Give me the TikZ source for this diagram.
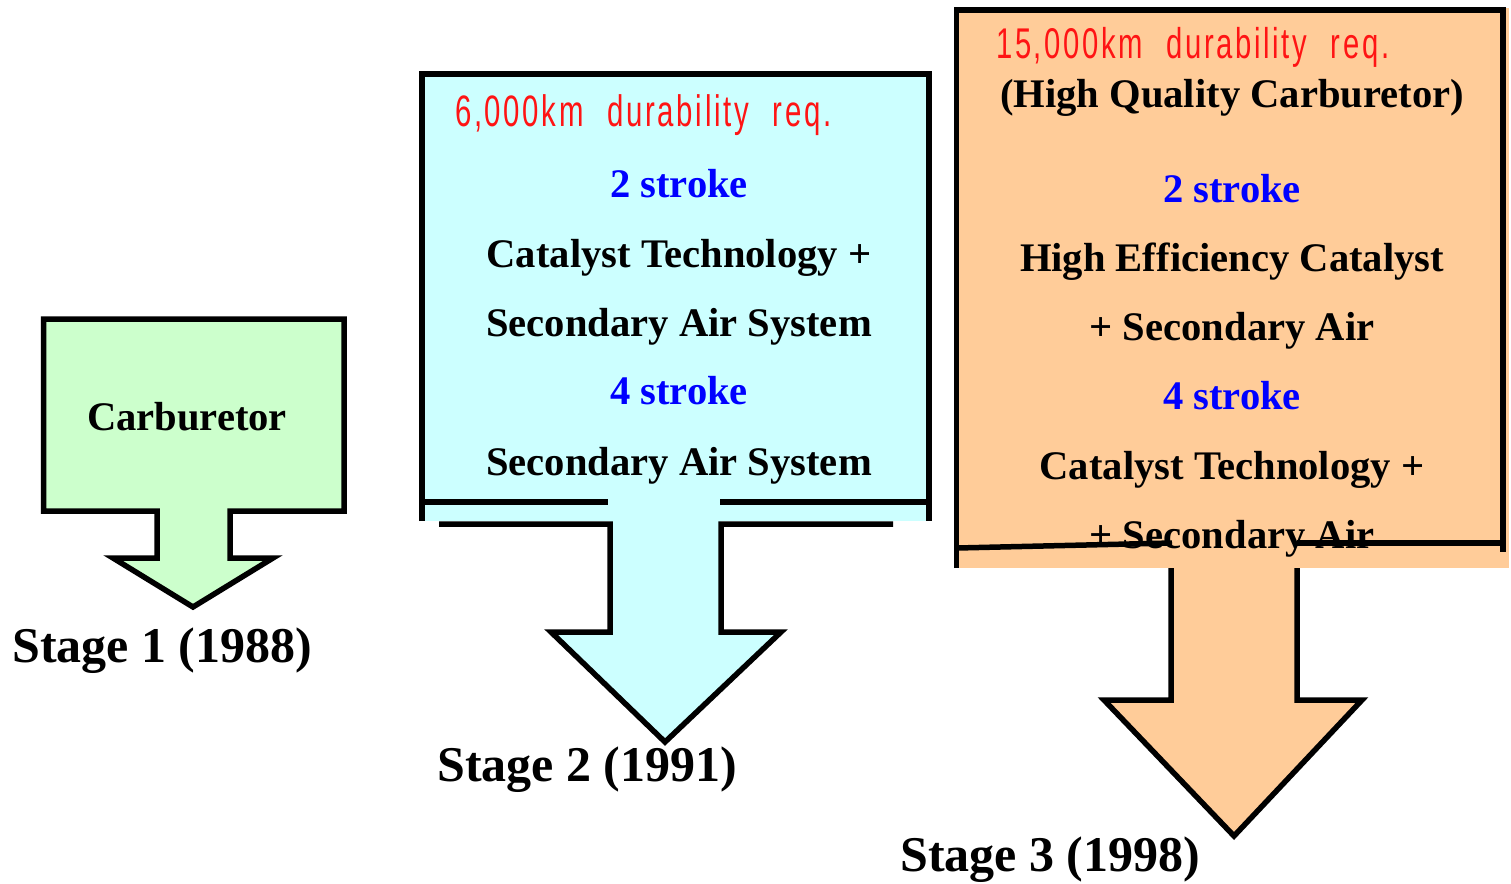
\documentclass[tikz,border=0pt]{standalone}
\usepackage{fontspec}
\usepackage{graphicx}
\setmainfont{Liberation Serif}
\newfontfamily\redfont[LetterSpace=9,WordSpace=2.2]{Liberation Sans}
\definecolor{gfill}{RGB}{204,255,204}
\definecolor{cfill}{RGB}{204,255,255}
\definecolor{ofill}{RGB}{255,204,153}
\definecolor{redtext}{RGB}{255,20,20}
\definecolor{bluetext}{RGB}{0,0,255}
\begin{document}
\begin{tikzpicture}[x=1pt,y=-1pt,
  outl/.style={line width=5.5pt, line join=miter, draw=black},
  bigtxt/.style={font=\fontsize{40.6}{48}\selectfont\bfseries, anchor=base, inner sep=0pt},
  bluetxt/.style={bigtxt, text=bluetext},
  stagetxt/.style={font=\fontsize{50}{60}\selectfont\bfseries, anchor=base west, inner sep=0pt},
  redtxt/.style={anchor=base west, inner sep=0pt, text=redtext}]
\useasboundingbox (0,0) rectangle (1511,883);

% ---- Stage 1 ----
\filldraw[outl, fill=gfill] (43.5,319) -- (344,319) -- (344,511) -- (230,511) -- (230,558)
  -- (273,558) -- (193,607) -- (113,558) -- (157,558) -- (157,511) -- (43.5,511) -- cycle;
\node[bigtxt] (carb) at (187,430) {Carburetor};
\node[stagetxt] (s1) at (12,662) {Stage 1 (1988)};

% ---- Stage 2 ----
\fill[cfill] (420,72) rectangle (931,521);
\fill[cfill] (610,521) -- (721,521) -- (721,632) -- (781,632) -- (665,742) -- (551,632) -- (610,632) -- cycle;
\draw[outl] (422,521) -- (422,74) -- (929,74) -- (929,521);
\draw[outl] (420,502) -- (608,502);
\draw[outl] (720,502) -- (931,502);
\draw[outl] (439,524) -- (610,524) -- (610,632) -- (551,632) -- (665,742) -- (781,632) -- (721,632) -- (721,524) -- (893,524);
\node[redtxt] (r2) at (455,126) {\resizebox{376pt}{\height}{\redfont\fontsize{44}{50}\selectfont 6,000km durability req.}};
\node[bluetxt] (b2a) at (679,197) {2 stroke};
\node[bigtxt] (t2a) at (679,267) {Catalyst Technology +};
\node[bigtxt] (t2b) at (679,336) {Secondary Air System};
\node[bluetxt] (b2b) at (679,404) {4 stroke};
\node[bigtxt] (t2c) at (679,475) {Secondary Air System};
\node[stagetxt] (s2) at (437,781) {Stage 2 (1991)};

% ---- Stage 3 ----
\fill[ofill] (954,8) rectangle (1509,568);
\fill[ofill] (1171,568) -- (1297,568) -- (1297,700) -- (1362,700) -- (1234,836) -- (1104,700) -- (1171,700) -- cycle;
\draw[outl] (956.5,568) -- (956.5,10) -- (1503,10) -- (1503,552);
\draw[outl] (957,548) -- (1172,543);
\draw[outl] (1297,543) -- (1504,543);
\draw[outl] (1171,568) -- (1171,700) -- (1104,700) -- (1234,836) -- (1362,700) -- (1297,700) -- (1297,568);
\node[redtxt] (r3) at (996,59) {\resizebox{393pt}{\height}{\redfont\fontsize{43}{50}\selectfont 15,000km durability req.}};
\node[bigtxt] (t3a) at (1232,107) {(High Quality Carburetor)};
\node[bluetxt] (b3a) at (1232,202) {2 stroke};
\node[bigtxt] (t3b) at (1232,271) {High Efficiency Catalyst};
\node[bigtxt] (t3c) at (1232,340) {+ Secondary Air};
\node[bluetxt] (b3b) at (1232,409) {4 stroke};
\node[bigtxt] (t3d) at (1232,479) {Catalyst Technology +};
\node[bigtxt] (t3e) at (1232,548) {+ Secondary Air};
\node[stagetxt] (s3) at (900,871) {Stage 3 (1998)};
\end{tikzpicture}
\end{document}
